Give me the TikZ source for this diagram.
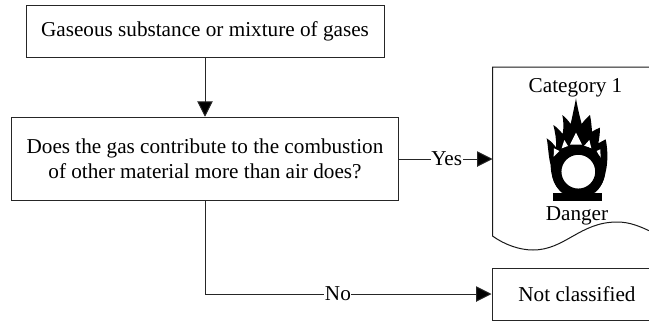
\documentclass[tikz,border=0pt]{standalone}
\usepackage{fontspec}
\setmainfont{Liberation Serif}
\usetikzlibrary{arrows.meta}
\tikzset{
  box/.style={draw=black!85,line width=1pt,fill=white,align=center,inner sep=0pt,font=\fontsize{21.2}{25.5}\selectfont},
  conn/.style={draw=black!85,line width=1pt,-{Triangle[length=15.5pt,width=15.5pt,fill=black]}},
  outline/.style={draw=black!90,line width=1pt},
  lab/.style={fill=white,inner sep=0.5pt,font=\fontsize{21.2}{24}\selectfont},
  plain/.style={inner sep=0pt,font=\fontsize{21.2}{24}\selectfont}
}
\begin{document}
\begin{tikzpicture}[x=1pt,y=-1pt]
\useasboundingbox (0,0) rectangle (649,322);
\clip (0,0) rectangle (649,322);
\node[box,minimum width=358pt,minimum height=52pt] (gas) at (205,31) {\raisebox{-1pt}{Gaseous substance or mixture of gases}};
\node[box,minimum width=387pt,minimum height=83.5pt] (q) at (205,159) {Does the gas contribute to the combustion\\of other material more than air does?};
\coordinate (doc) at (492.5,159);
\draw[outline] (660,67) -- (492.5,67) -- (492.5,236) .. controls (505,245) and (520,250) .. (533,250) .. controls (565,250) and (580,222) .. (617,222) .. controls (630,222) and (640,226) .. (660,236);
\node[plain] (cat) at (575.5,87.5) {Category 1};
\node[plain] (dan) at (577,216) {Danger};
\node[box,minimum width=170pt,minimum height=52pt] (nc) at (577,294) {Not classified};
\draw[conn] (gas) -- (q);
\draw[conn] (q.east |- doc) -- node[lab,pos=0.51] (yes) {Yes} (doc);
\draw[conn] (q.south) |- node[lab,pos=0.732] (no) {No} (nc.west);
\begin{scope}[shift={(480,60)},x=0.33333pt,y=-0.33333pt]
\fill[black] (219,398) rectangle (366,424);
\fill[black] (245,398) .. controls (215,370) and (212,330) .. (212,315) .. controls (205,290) and (205,260) .. (200,235) .. controls (212,242) and (220,252) .. (228,262) .. controls (230,240) and (225,215) .. (220,195) .. controls (232,203) and (240,212) .. (248,222) .. controls (252,200) and (250,180) .. (247,165) .. controls (256,172) and (265,182) .. (272,192) .. controls (278,165) and (283,140) .. (288,115) .. controls (292,140) and (298,165) .. (305,192) .. controls (312,182) and (322,172) .. (330,165) .. controls (333,180) and (335,198) .. (336,215) .. controls (344,210) and (352,206) .. (360,203) .. controls (360,218) and (358,235) .. (355,250) .. controls (362,246) and (370,242) .. (377,238) .. controls (384,270) and (384,310) .. (376,340) .. controls (372,365) and (360,385) .. (345,398) -- cycle;
\fill[white] (270,254) -- (288,218) -- (306,254) -- cycle;
\fill[white] (245,265) -- (253,240) -- (264,258) -- cycle;
\fill[white] (312,258) -- (328,240) -- (334,265) -- cycle;
\fill[white] (221,290) -- (222,265) -- (238,273) -- cycle;
\fill[white] (350,273) -- (361,268) -- (362,296) -- cycle;
\draw[black,fill=white,line width=9.5pt] (295,335) circle (65);
\end{scope}
\end{tikzpicture}
\end{document}
